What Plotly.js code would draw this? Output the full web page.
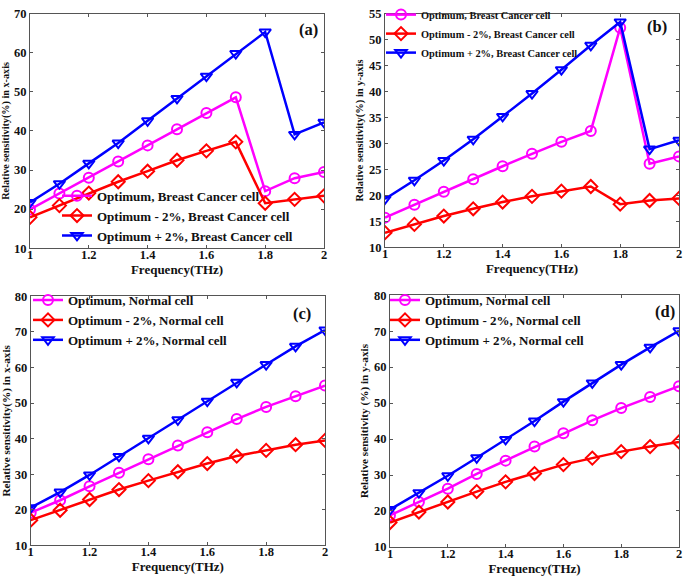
<!DOCTYPE html>
<html>
<head>
<meta charset="utf-8">
<script src="https://cdn.plot.ly/plotly-3.0.1.min.js"></script>
<style>html,body{margin:0;padding:0;background:#fff;}#chart{width:685px;height:576px;}</style>
</head>
<body>
<div id="chart"></div>
<script>
// Frequency (THz)
const freq = [1.0, 1.1, 1.2, 1.3, 1.4, 1.5, 1.6, 1.7, 1.8, 1.9, 2.0];
const xTicks = [1, 1.2, 1.4, 1.6, 1.8, 2];
const xTickText = ['1', '1.2', '1.4', '1.6', '1.8', '2'];

// (a) Breast cancer cell, x-axis
const aOpt   = [19.9, 24.0, 28.0, 32.2, 36.3, 40.4, 44.6, 48.6, 24.6, 27.9, 29.5];
const aMinus = [17.9, 20.9, 24.1, 27.0, 29.7, 32.5, 34.9, 37.2, 21.5, 22.5, 23.4];
const aPlus  = [21.7, 26.5, 31.7, 36.9, 42.6, 48.3, 54.0, 59.8, 65.3, 39.1, 42.2];

// (b) Breast cancer cell, y-axis
const bOpt   = [15.7, 18.2, 20.7, 23.1, 25.6, 28.0, 30.3, 32.4, 52.3, 26.1, 27.5];
const bMinus = [12.8, 14.4, 16.0, 17.4, 18.7, 19.8, 20.8, 21.7, 18.3, 19.0, 19.4];
const bPlus  = [19.3, 22.9, 26.7, 30.8, 35.2, 39.6, 44.2, 48.9, 53.4, 28.9, 30.6];

// (c) Normal cell, x-axis
const cOpt   = [19.2, 22.7, 26.6, 30.4, 34.2, 38.1, 41.8, 45.5, 48.9, 51.9, 54.9];
const cMinus = [17.1, 19.9, 22.9, 25.7, 28.2, 30.7, 33.0, 35.1, 36.7, 38.3, 39.5];
const cPlus  = [20.6, 25.0, 29.8, 35.0, 40.1, 45.3, 50.5, 55.8, 60.8, 65.9, 70.5];

// (d) Normal cell, y-axis
const dOpt   = [18.8, 22.5, 26.2, 30.3, 34.0, 37.9, 41.6, 45.2, 48.6, 51.7, 54.7];
const dMinus = [16.8, 19.7, 22.5, 25.4, 28.1, 30.4, 32.9, 34.7, 36.5, 37.9, 39.2];
const dPlus  = [20.4, 25.1, 29.8, 34.8, 39.9, 45.0, 50.4, 55.6, 60.7, 65.5, 70.1];

const namesCancer = ['Optimum, Breast Cancer cell', 'Optimum - 2%, Breast Cancer cell', 'Optimum + 2%, Breast Cancer cell'];
const namesNormal = ['Optimum, Normal cell', 'Optimum - 2%, Normal cell', 'Optimum + 2%, Normal cell'];

const colors = ['#ff00ff', '#ff0000', '#0000ff'];
const symbols = ['circle-open', 'diamond-open', 'triangle-down-open'];

function mk(y, i, name, xa, ya, leg) {
  return {
    x: freq, y: y, name: name, type: 'scatter', mode: 'lines+markers',
    xaxis: xa, yaxis: ya, legend: leg,
    line: {color: colors[i], width: 2.5},
    marker: {symbol: symbols[i], size: 10, color: colors[i], line: {color: colors[i], width: 2}}
  };
}

const data = [
  mk(aOpt, 0, namesCancer[0], 'x', 'y', 'legend'),
  mk(aMinus, 1, namesCancer[1], 'x', 'y', 'legend'),
  mk(aPlus, 2, namesCancer[2], 'x', 'y', 'legend'),
  mk(bOpt, 0, namesCancer[0], 'x2', 'y2', 'legend2'),
  mk(bMinus, 1, namesCancer[1], 'x2', 'y2', 'legend2'),
  mk(bPlus, 2, namesCancer[2], 'x2', 'y2', 'legend2'),
  mk(cOpt, 0, namesNormal[0], 'x3', 'y3', 'legend3'),
  mk(cMinus, 1, namesNormal[1], 'x3', 'y3', 'legend3'),
  mk(cPlus, 2, namesNormal[2], 'x3', 'y3', 'legend3'),
  mk(dOpt, 0, namesNormal[0], 'x4', 'y4', 'legend4'),
  mk(dMinus, 1, namesNormal[1], 'x4', 'y4', 'legend4'),
  mk(dPlus, 2, namesNormal[2], 'x4', 'y4', 'legend4')
];

const W = 685, H = 576;
function dx(l, r) { return [l / W, r / W]; }
function dy(t, b) { return [1 - b / H, 1 - t / H]; }

const serif = 'Liberation Serif, Times New Roman, serif';
function xax(dom, anchor) {
  return {
    domain: dom, anchor: anchor, range: [1, 2],
    tickvals: xTicks, ticktext: xTickText,
    ticks: 'inside', ticklen: 3, tickcolor: '#555', mirror: 'ticks',
    showline: true, linecolor: '#555', linewidth: 1, showgrid: false, zeroline: false,
    ticklabelstandoff: -5,
    tickfont: {family: serif, size: 12.5, color: '#111', weight: 'bold'},
    title: {text: 'Frequency(THz)', font: {family: serif, size: 13, color: '#111', weight: 'bold'}, standoff: 0},
    automargin: false
  };
}
function yax(dom, anchor, range, dtick, title, tsize) {
  return {
    domain: dom, anchor: anchor, range: range, dtick: dtick, tick0: 0,
    ticks: 'inside', ticklen: 3, tickcolor: '#555', mirror: 'ticks',
    showline: true, linecolor: '#555', linewidth: 1, showgrid: false, zeroline: false,
    tickfont: {family: serif, size: 12.5, color: '#111', weight: 'bold'},
    title: {text: title, font: {family: serif, size: tsize, color: '#111', weight: 'bold'}, standoff: 3},
    automargin: false
  };
}
function leg(x, y, size) {
  return {
    x: x, y: y, xanchor: 'left', yanchor: 'middle', bgcolor: 'rgba(255,255,255,0)',
    borderwidth: 0, font: {family: serif, size: size, color: '#111', weight: 'bold'},
    tracegroupgap: 0, itemwidth: 30
  };
}
function lab(t, x, y) {
  return {text: t, x: x / W, y: 1 - y / H, xref: 'paper', yref: 'paper', showarrow: false,
    xanchor: 'center', yanchor: 'middle', font: {family: serif, size: 16.5, color: '#111', weight: 'bold'}};
}

const layout = {
  width: W, height: H, margin: {l: 0, r: 0, t: 0, b: 0},
  paper_bgcolor: '#fff', plot_bgcolor: '#fff', showlegend: true,
  xaxis: xax(dx(30, 324), 'y'),
  yaxis: yax(dy(4.7, 243), 'x', [10, 70], 10, 'Relative sensitivity(%) in x-axis', 10.2),
  xaxis2: xax(dx(385, 679), 'y2'),
  yaxis2: yax(dy(4.7, 242), 'x2', [10, 55], 5, 'Relative sensitivity(%) in y-axis', 10.5),
  xaxis3: xax(dx(30.7, 325), 'y3'),
  yaxis3: yax(dy(291.7, 545), 'x3', [10, 80], 10, 'Relative sensitivity(%) in x-axis', 11.2),
  xaxis4: xax(dx(390, 679), 'y4'),
  yaxis4: yax(dy(290.7, 546.5), 'x4', [10, 80], 10, 'Relative sensitivity (%) in y-axis', 11.2),
  legend: leg(57 / W, 1 - 210 / H, 13),
  legend2: leg(381 / W, 1 - 25 / H, 10.4),
  legend3: leg(28 / W, 1 - 316 / H, 13),
  legend4: leg(385 / W, 1 - 316 / H, 13),
  annotations: [lab('(a)', 308, 21), lab('(b)', 657, 18), lab('(c)', 302, 309), lab('(d)', 665, 307)]
};

Plotly.newPlot('chart', data, layout, {staticPlot: true, displayModeBar: false});
</script>
</body>
</html>
